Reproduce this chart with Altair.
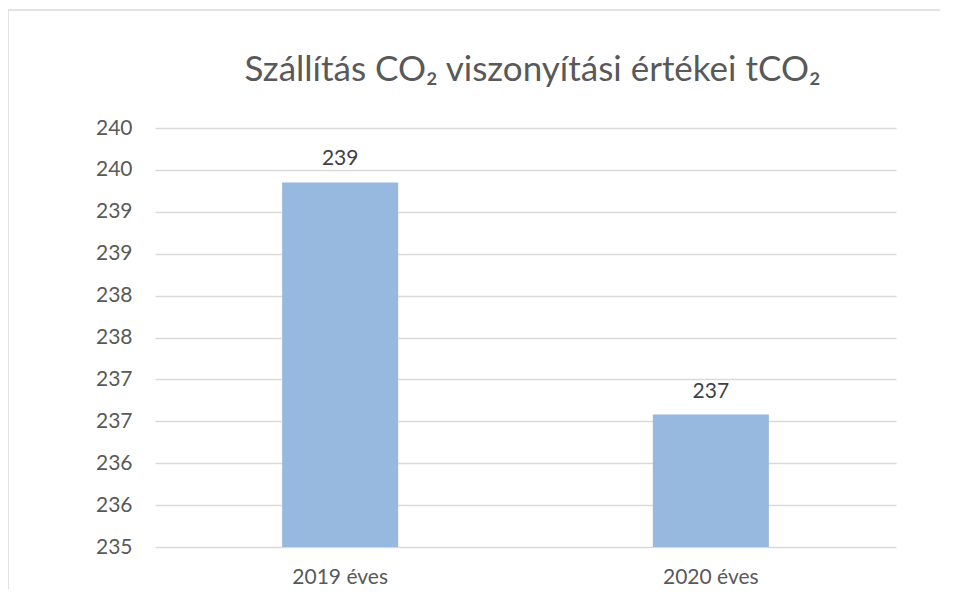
import altair as alt
import pandas as pd

categories = ["2019 éves", "2020 éves"]
values = [239.35, 236.58]
y_ticks = [235, 235.5, 236, 236.5, 237, 237.5, 238, 238.5, 239, 239.5, 240]
y_min, y_max = 235, 240
title_text = "Szállítás  CO₂ viszonyítási értékei tCO₂"

df = pd.DataFrame({"cat": categories, "val": values})

FONT = "Lato"
GREY = "#595959"

x_enc = alt.X("cat:N", title=None, sort=categories,
              scale=alt.Scale(paddingInner=0.687, paddingOuter=0.343),
              axis=alt.Axis(labelAngle=0, domain=False, ticks=False,
                            labelPadding=19, labelFontSize=21, labelColor=GREY,
                            labelFont=FONT, grid=False))
y_enc = alt.Y("val:Q", title=None,
              scale=alt.Scale(domain=[y_min, y_max], zero=False, nice=False),
              axis=alt.Axis(values=y_ticks, format=".0f", domain=False, ticks=False,
                            labelPadding=23, labelFontSize=21, labelColor=GREY,
                            labelFont=FONT, grid=True, gridColor="#d9d9d9",
                            gridWidth=1.3))

# outer chart-area border (decoration): left and top edges only are visible
one = pd.DataFrame({"f": [0]})
frame_top = alt.Chart(one).mark_rule(stroke="#d9d9d9", strokeWidth=1.5).encode(
    x=alt.value(-147), x2=alt.value(785), y=alt.value(-118)
)
frame_left = alt.Chart(one).mark_rule(stroke="#d9d9d9", strokeWidth=1.5).encode(
    x=alt.value(-147), y=alt.value(-118), y2=alt.value(461)
)

bars = alt.Chart(df).mark_bar(color="#97b8df").encode(
    x=x_enc, y=y_enc, y2=alt.datum(y_min)
)

labels = alt.Chart(df).mark_text(
    baseline="bottom", dy=-13, fontSize=21, color="#404040", font=FONT
).encode(
    x=alt.X("cat:N", sort=categories),
    y="val:Q",
    text=alt.Text("val:Q", format=".0f"),
)

chart = alt.layer(frame_top, frame_left, bars, labels).properties(
    width=741,
    height=419,
    background="white",
    title=alt.TitleParams(title_text, fontSize=35, font=FONT, color=GREY,
                          fontWeight="normal", anchor="middle", frame="group",
                          offset=29, dx=7, dy=108),
    autosize=alt.AutoSizeParams(type="none"),
    padding={"left": 147, "top": 120, "right": 49, "bottom": 43},
).configure_view(stroke=None)

chart.save("out.html", embed_options={"renderer": "svg", "actions": False})
